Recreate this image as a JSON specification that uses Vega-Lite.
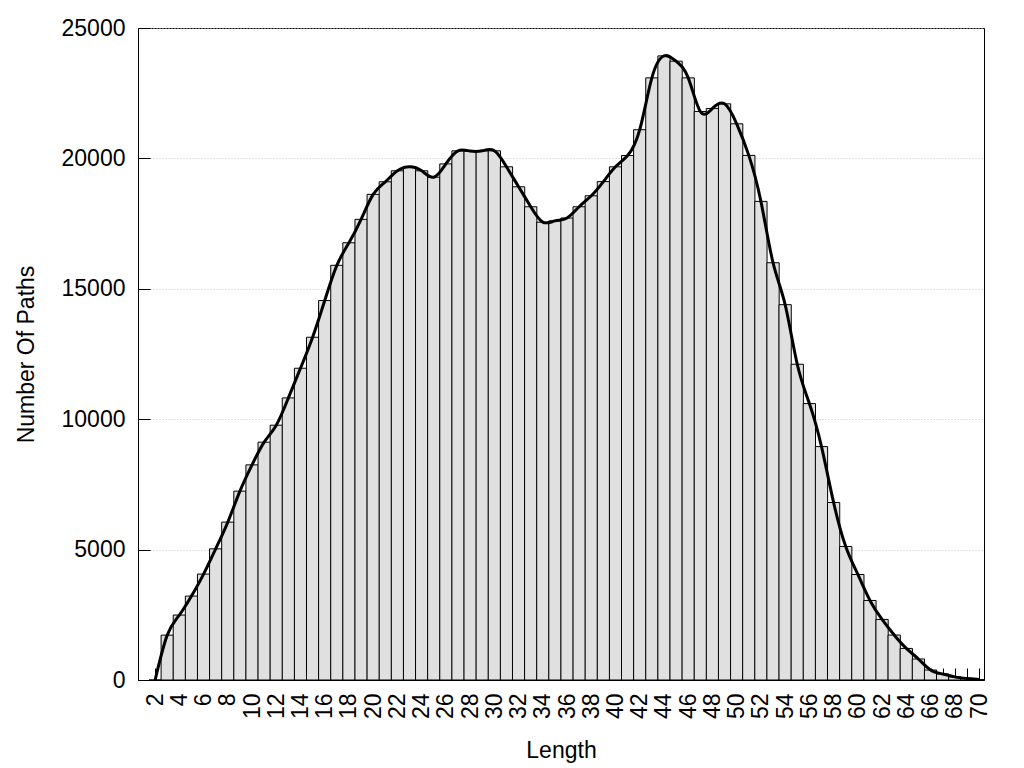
{
  "$schema": "https://vega.github.io/schema/vega-lite/v6.json",
  "width": 846,
  "height": 652,
  "autosize": {"type": "none"},
  "padding": {"left": 138, "top": 28, "right": 40, "bottom": 88},
  "background": "white",
  "config": {
    "font": "Liberation Sans",
    "view": {"stroke": "black", "strokeWidth": 1},
    "axis": {
      "labelFont": "Liberation Sans",
      "titleFont": "Liberation Sans",
      "labelFontSize": 23,
      "titleFontSize": 23,
      "titleFontWeight": "normal",
      "labelColor": "black",
      "titleColor": "black",
      "domainColor": "black",
      "tickColor": "black",
      "tickWidth": 1,
      "tickSize": -12,
      "labelPadding": 25
    }
  },
  "data": {
    "values": [
      {"length": 2, "count": 0},
      {"length": 3, "count": 1720},
      {"length": 4, "count": 2490},
      {"length": 5, "count": 3218},
      {"length": 6, "count": 4061},
      {"length": 7, "count": 5030},
      {"length": 8, "count": 6054},
      {"length": 9, "count": 7241},
      {"length": 10, "count": 8249},
      {"length": 11, "count": 9119},
      {"length": 12, "count": 9770},
      {"length": 13, "count": 10816},
      {"length": 14, "count": 11954},
      {"length": 15, "count": 13142},
      {"length": 16, "count": 14550},
      {"length": 17, "count": 15900},
      {"length": 18, "count": 16766},
      {"length": 19, "count": 17663},
      {"length": 20, "count": 18621},
      {"length": 21, "count": 19104},
      {"length": 22, "count": 19525},
      {"length": 23, "count": 19678},
      {"length": 24, "count": 19525},
      {"length": 25, "count": 19280},
      {"length": 26, "count": 19790},
      {"length": 27, "count": 20291},
      {"length": 28, "count": 20280},
      {"length": 29, "count": 20291},
      {"length": 30, "count": 20291},
      {"length": 31, "count": 19678},
      {"length": 32, "count": 18912},
      {"length": 33, "count": 18146},
      {"length": 34, "count": 17555},
      {"length": 35, "count": 17605},
      {"length": 36, "count": 17715},
      {"length": 37, "count": 18146},
      {"length": 38, "count": 18567},
      {"length": 39, "count": 19110},
      {"length": 40, "count": 19678},
      {"length": 41, "count": 20110},
      {"length": 42, "count": 21100},
      {"length": 43, "count": 23088},
      {"length": 44, "count": 23931},
      {"length": 45, "count": 23728},
      {"length": 46, "count": 23088},
      {"length": 47, "count": 21800},
      {"length": 48, "count": 21916},
      {"length": 49, "count": 22092},
      {"length": 50, "count": 21326},
      {"length": 51, "count": 20115},
      {"length": 52, "count": 18352},
      {"length": 53, "count": 16000},
      {"length": 54, "count": 14391},
      {"length": 55, "count": 12107},
      {"length": 56, "count": 10598},
      {"length": 57, "count": 8950},
      {"length": 58, "count": 6805},
      {"length": 59, "count": 5119},
      {"length": 60, "count": 4046},
      {"length": 61, "count": 3050},
      {"length": 62, "count": 2322},
      {"length": 63, "count": 1724},
      {"length": 64, "count": 1211},
      {"length": 65, "count": 805},
      {"length": 66, "count": 383},
      {"length": 67, "count": 230},
      {"length": 68, "count": 120},
      {"length": 69, "count": 60},
      {"length": 70, "count": 15}
    ]
  },
  "encoding": {
    "x": {
      "field": "length",
      "type": "quantitative",
      "scale": {"domain": [1, 70], "nice": false, "zero": false},
      "axis": {
        "title": "Length",
        "values": [2,3,4,5,6,7,8,9,10,11,12,13,14,15,16,17,18,19,20,21,22,23,24,25,26,27,28,29,30,31,32,33,34,35,36,37,38,39,40,41,42,43,44,45,46,47,48,49,50,51,52,53,54,55,56,57,58,59,60,61,62,63,64,65,66,67,68,69,70],
        "labelExpr": "datum.value % 2 === 0 ? datum.label : ''",
        "labelAngle": -90,
        "labelOverlap": false,
        "labelFlush": false,
        "grid": false,
        "titleY": 77,
        "titleBaseline": "alphabetic"
      }
    },
    "y": {
      "field": "count",
      "type": "quantitative",
      "scale": {"domain": [0, 25000], "nice": false},
      "axis": {
        "title": "Number Of Paths",
        "values": [0, 5000, 10000, 15000, 20000, 25000],
        "format": "d",
        "grid": true,
        "gridColor": "#c0c0c0",
        "gridDash": [1, 2],
        "gridWidth": 1,
        "titleX": -105,
        "titleBaseline": "alphabetic"
      }
    }
  },
  "layer": [
    {
      "mark": {"type": "bar", "width": 12.26, "fill": "#e0e0e0", "stroke": "black", "strokeWidth": 1, "clip": true}
    },
    {
      "mark": {"type": "line", "color": "black", "strokeWidth": 3, "interpolate": "natural", "clip": true}
    }
  ]
}
